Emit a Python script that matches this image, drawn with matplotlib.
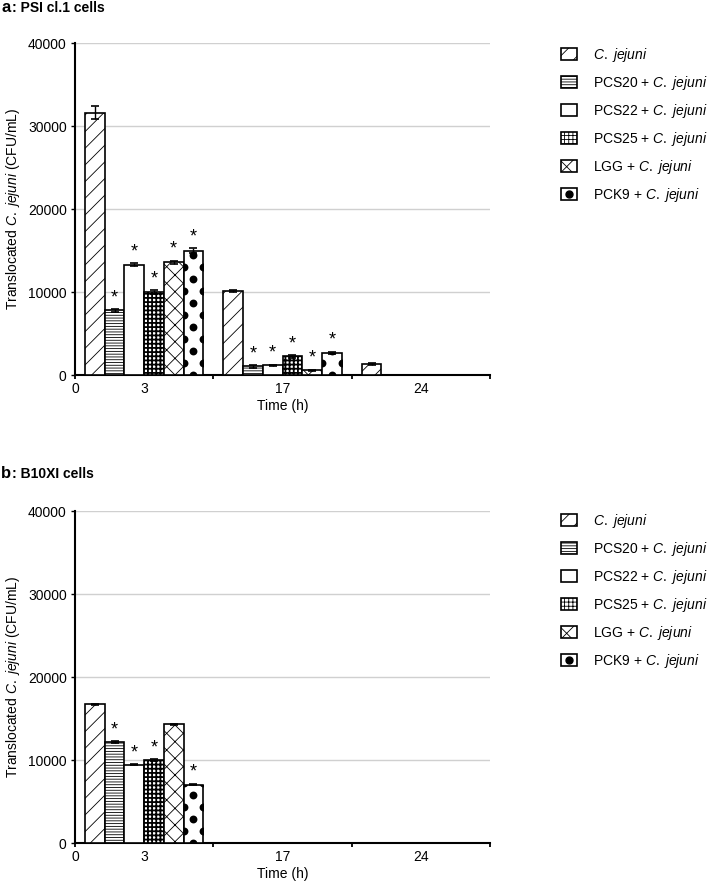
import matplotlib
matplotlib.use("Agg")
import matplotlib.pyplot as plt
import numpy as np
from matplotlib.patches import Patch
from matplotlib.lines import Line2D

plt.rcParams['font.family'] = ['Liberation Sans', 'DejaVu Sans']
plt.rcParams['mathtext.fontset'] = 'custom'
plt.rcParams['mathtext.rm'] = 'Liberation Sans'
plt.rcParams['mathtext.it'] = 'Liberation Sans:italic'
plt.rcParams['hatch.linewidth'] = 0.6

# Datos
times = ['3', '17', '24']
groups = ['C. jejuni', 'PCS20 + C. jejuni', 'PCS22 + C. jejuni',
          'PCS25 + C. jejuni', 'LGG + C. jejuni', 'PCK9 + C. jejuni']
cj = r'$\it{C.}$ $\it{jejuni}$'
labels = [cj, 'PCS20 + ' + cj, 'PCS22 + ' + cj,
          'PCS25 + ' + cj, 'LGG + ' + cj, 'PCK9 + ' + cj]

# panel a: PSI cl.1 (filas = grupos, columnas = tiempos)
psi_vals = [[31600, 10100, 1300],
            [7800, 1050, 0],
            [13300, 1150, 0],
            [10000, 2250, 0],
            [13600, 550, 0],
            [15000, 2700, 0]]
psi_err = [[800, 120, 150],
           [150, 150, 0],
           [150, 100, 0],
           [200, 150, 0],
           [200, 100, 0],
           [300, 120, 0]]
psi_sig = [[False, False, False],
           [True, True, False],
           [True, True, False],
           [True, True, False],
           [True, True, False],
           [True, True, False]]

# panel b: B10XI
b10_vals = [[16700, 0, 0],
            [12200, 0, 0],
            [9450, 0, 0],
            [10000, 0, 0],
            [14300, 0, 0],
            [7050, 0, 0]]
b10_err = [[100, 0, 0],
           [100, 0, 0],
           [100, 0, 0],
           [100, 0, 0],
           [100, 0, 0],
           [100, 0, 0]]
b10_sig = [[False, False, False],
           [True, False, False],
           [True, False, False],
           [True, False, False],
           [False, False, False],
           [True, False, False]]

hatches = ['//', '------', '', '++++', 'xx', '']

bar_w = 0.1425
margin = (1 - 6 * bar_w) / 2
fs = 10

fig = plt.figure(figsize=(7.09, 8.86), dpi=100)
ax_a = fig.add_axes([0.1058, 0.5767, 0.5853, 0.3747])
ax_b = fig.add_axes([0.1058, 0.0485, 0.5853, 0.3747])


def dibujar(ax, vals, errs, sigs, legend_top):
    for i, g in enumerate(groups):
        xs = np.arange(len(times)) + margin + (i + 0.5) * bar_w
        lw_h = 1.3 if i == 3 else 0.6
        with plt.rc_context({'hatch.linewidth': lw_h}):
            bars = ax.bar(xs, vals[i], width=bar_w, color='white', edgecolor='black',
                          linewidth=1.2, hatch=hatches[i], zorder=3)
        for j, b in enumerate(bars):
            v = vals[i][j]
            if v <= 0:
                continue
            e = errs[i][j]
            if e > 0:
                ax.errorbar(xs[j], v, yerr=e, color='black', capsize=3, elinewidth=1,
                            capthick=1.2, zorder=4)
            if sigs[i][j]:
                ax.annotate('*', (xs[j], v + e), xytext=(0, 2), textcoords='offset points',
                            ha='center', va='bottom', fontsize=13, zorder=5)
            if i == 5:
                # patron de puntos grandes, recortado a la barra
                dy = 2900
                yc = np.arange(0, v + dy, dy)
                ye = np.arange(dy / 2, v + dy, dy)
                px = np.concatenate([np.full(len(yc), xs[j]),
                                     np.full(len(ye), xs[j] - bar_w / 2),
                                     np.full(len(ye), xs[j] + bar_w / 2)])
                py = np.concatenate([yc, ye, ye])
                sc = ax.scatter(px, py, s=32, color='black', zorder=4, linewidths=0)
                sc.set_clip_path(b)

    ax.set_xlim(0, len(times))
    ax.set_ylim(0, 40000)
    ax.set_yticks(np.arange(0, 40001, 10000))
    ax.yaxis.grid(True, color='#d0d0d0', linewidth=1, zorder=0)
    ax.set_axisbelow(True)
    ax.set_xticks(np.arange(len(times) + 1))
    ax.set_xticklabels(['0'] + [''] * len(times))
    ax.set_xticks(np.arange(len(times)) + 0.5, minor=True)
    ax.set_xticklabels(times, minor=True)
    ax.tick_params(axis='x', which='major', length=3, width=1.3, labelsize=fs, pad=2)
    ax.tick_params(axis='x', which='minor', length=0, labelsize=fs, pad=5)
    ax.tick_params(axis='y', length=3, width=1, labelsize=fs, pad=3)
    for s in ['top', 'right']:
        ax.spines[s].set_visible(False)
    ax.spines['left'].set_linewidth(1.5)
    ax.spines['bottom'].set_linewidth(1.5)
    ax.set_xlabel('Time (h)', fontsize=fs, labelpad=2)
    ax.set_ylabel('Translocated ' + cj + ' (CFU/mL)', fontsize=fs)
    ax.yaxis.set_label_coords(-0.128, 0.5)

    handles = []
    for i in range(6):
        p = Patch(facecolor='white', edgecolor='black', linewidth=1.2, hatch=hatches[i])
        if i == 5:
            handles.append((p, Line2D([], [], marker='o', color='black', linestyle='',
                                      markersize=5)))
        else:
            handles.append(p)
    ax.legend(handles, labels, loc='upper left', bbox_to_anchor=(0.791, legend_top),
              bbox_transform=fig.transFigure, frameon=False, fontsize=fs,
              handlelength=1.2, handleheight=0.95, handletextpad=1.1,
              labelspacing=0.72, borderpad=0, borderaxespad=0)


dibujar(ax_a, psi_vals, psi_err, psi_sig, 1 - 46 / 886)
dibujar(ax_b, b10_vals, b10_err, b10_sig, 1 - 512 / 886)

fig.text(0.002, 1 - 12 / 886, 'a', fontsize=12, fontweight='bold', va='baseline')
fig.text(0.0165, 1 - 12 / 886, ': PSI cl.1 cells', fontsize=10, fontweight='bold', va='baseline')
fig.text(0.002, 1 - 478 / 886, 'b', fontsize=12, fontweight='bold', va='baseline')
fig.text(0.0165, 1 - 478 / 886, ': B10XI cells', fontsize=10, fontweight='bold', va='baseline')

fig.savefig('out.png', dpi=100)
